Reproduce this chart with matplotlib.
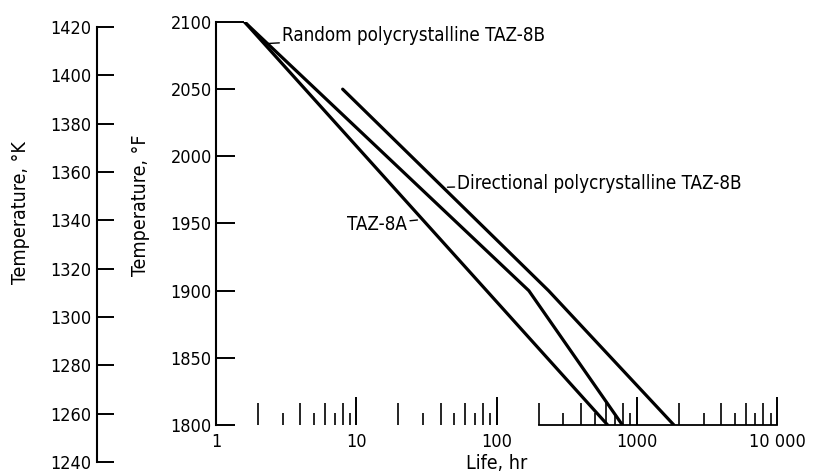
import matplotlib
matplotlib.use('Agg')
import matplotlib.pyplot as plt
import matplotlib.ticker as mticker
import numpy as np

plt.rcParams['font.family'] = ['DejaVu Sans']
plt.rcParams['font.stretch'] = 'condensed'

# stress-rupture curves, life in hr vs temperature in deg F
taz8a_life = [1.6, 620]
taz8a_temp = [2100, 1800]
random_life = [1.6, 170, 790]
random_temp = [2100, 1900, 1800]
directional_life = [8, 235, 1840]
directional_temp = [2050, 1900, 1800]

x_ticks = [1, 10, 100, 1000, 10000]
x_labels = ['1', '10', '100', '1000', '10 000']
f_ticks = [1800, 1850, 1900, 1950, 2000, 2050, 2100]
k_ticks = [1240, 1260, 1280, 1300, 1320, 1340, 1360, 1380, 1400, 1420]


def f_to_k(f):
    return (f - 32) * 5 / 9 + 273.15


W, H = 813, 474
fig = plt.figure(figsize=(W / 100, H / 100), dpi=100)

left, right, top, bottom = 216, 777, 22, 425
ax = fig.add_axes([left / W, (H - bottom) / H, (right - left) / W,
                   (bottom - top) / H])

for life, temp in [(taz8a_life, taz8a_temp), (random_life, random_temp),
                   (directional_life, directional_temp)]:
    ax.plot(life, temp, color='black', lw=2.3, solid_capstyle='round')

ax.set_xscale('log')
ax.set_xlim(1, 10000)
ax.set_ylim(1800, 2100)

for s in ['top', 'right']:
    ax.spines[s].set_visible(False)
ax.spines['left'].set_linewidth(1.5)
ax.spines['bottom'].set_linewidth(1.3)
ax.spines['bottom'].set_bounds(200, 10000)

ax.set_xticks(x_ticks)
ax.set_xticklabels(x_labels)
ax.xaxis.set_minor_locator(mticker.LogLocator(base=10, subs=(3, 5, 7, 9)))
ax.xaxis.set_minor_formatter(mticker.NullFormatter())
ax.tick_params(axis='x', which='major', direction='in', length=20, width=1.4,
               labelsize=13, pad=6)
ax.tick_params(axis='x', which='minor', direction='in', length=9, width=1.2)

# even sub-ticks drawn a bit longer
sec = ax.secondary_xaxis('bottom')
sec.set_xticks([m * 10 ** d for d in range(4) for m in (2, 4, 6, 8)])
sec.xaxis.set_minor_locator(mticker.NullLocator())
sec.tick_params(direction='in', length=16, width=1.2, labelbottom=False)
sec.spines['bottom'].set_visible(False)

ax.set_yticks(f_ticks)
ax.tick_params(axis='y', direction='in', length=14, width=1.4,
               labelsize=13, pad=3)
ax.yaxis.get_major_ticks()[-1].tick1line.set_markersize(20)

ax.set_xlabel('Life, hr', fontsize=14, labelpad=2)

# kelvin scale on the far left
f_bottom = 1800 - ((H - bottom) / (bottom - top)) * 300
axk = fig.add_axes([97 / W, 0.0, 0.001, (H - top) / H])
axk.set_ylim(f_to_k(f_bottom), f_to_k(2100))
axk.set_xticks([])
for s in ['top', 'right', 'bottom']:
    axk.spines[s].set_visible(False)
axk.spines['left'].set_linewidth(1.5)
axk.spines['left'].set_bounds(1240, 1420)
axk.patch.set_visible(False)
axk.set_yticks(k_ticks)
axk.tick_params(axis='y', direction='in', length=12, width=1.4,
                labelsize=13, pad=4)

fig.text(20 / W, 1 - 213 / H, 'Temperature, °K', rotation=90,
         ha='center', va='center', fontsize=14)
fig.text(140 / W, 1 - 205 / H, 'Temperature, °F', rotation=90,
         ha='center', va='center', fontsize=14)

arrow = dict(arrowstyle='-', color='black', lw=1.0, shrinkA=0, shrinkB=0)
ax.annotate('Random polycrystalline TAZ-8B', xy=(2.35, 2084),
            xytext=(2.96, 2090), ha='left', va='center', fontsize=13.5,
            arrowprops=arrow)
ax.annotate('Directional polycrystalline TAZ-8B', xy=(44.7, 1977),
            xytext=(52.6, 1980), ha='left', va='center', fontsize=13.5,
            arrowprops=arrow)
ax.annotate('TAZ-8A', xy=(27.3, 1952.6), xytext=(23.1, 1949.6),
            ha='right', va='center', fontsize=13.5, arrowprops=arrow)

fig.savefig('out.png', dpi=100)
